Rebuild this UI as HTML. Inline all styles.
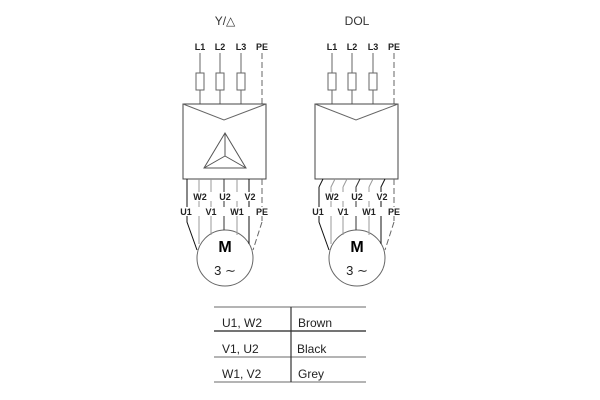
<!DOCTYPE html>
<html><head><style>body{margin:0;background:#fff}svg{display:block}</style></head><body>
<svg width="600" height="400" xmlns="http://www.w3.org/2000/svg" font-family="Liberation Sans, sans-serif">
<defs>
<g id="top">
  <g stroke="#666" stroke-width="1" fill="none">
    <line x1="200" y1="53" x2="200" y2="104"/>
    <line x1="220" y1="53" x2="220" y2="104"/>
    <line x1="241" y1="53" x2="241" y2="104"/>
    <line x1="262" y1="53" x2="262" y2="104" stroke-dasharray="6,3"/>
    <rect x="196" y="73" width="8" height="17" fill="#fff"/>
    <rect x="216" y="73" width="8" height="17" fill="#fff"/>
    <rect x="237" y="73" width="8" height="17" fill="#fff"/>
    <rect x="183" y="104" width="83" height="75" fill="#fff" stroke="#444"/>
    <polyline points="183,104 224,120 266,104"/>
    <line x1="262" y1="179" x2="262" y2="222" stroke-dasharray="6,3"/>
    <line x1="262" y1="222" x2="253" y2="250" stroke-dasharray="6,3"/>
    <circle cx="225" cy="258" r="28" fill="#fff"/>
  </g>
  <g font-size="9" font-weight="bold" text-anchor="middle" fill="#222">
    <text x="200" y="50">L1</text><text x="220" y="50">L2</text><text x="241" y="50">L3</text><text x="262" y="50">PE</text>
  </g>
  <text x="225" y="252" font-size="16" font-weight="bold" text-anchor="middle">M</text>
  <text x="225" y="275" font-size="13" text-anchor="middle" fill="#222">3 ∼</text>
</g>
<g id="labels" font-size="9" font-weight="bold" text-anchor="middle" fill="#222">
  <rect x="192" y="192" width="65" height="9" fill="#fff"/>
  <rect x="178" y="207" width="92" height="9" fill="#fff"/>
  <text x="200" y="200">W2</text><text x="225" y="200">U2</text><text x="250" y="200">V2</text>
  <text x="186" y="215">U1</text><text x="211" y="215">V1</text><text x="237" y="215">W1</text><text x="262" y="215">PE</text>
</g>
</defs>

<text x="225" y="25" font-size="12" text-anchor="middle" fill="#333">Y/△</text>
<use href="#top"/>
<g stroke="#333" fill="none">
  <polygon points="225,133 204,168 246,168" stroke="#555"/>
  <polyline points="225,133 225,156" stroke="#555"/>
  <line x1="204" y1="168" x2="225" y2="156" stroke="#555"/>
  <line x1="246" y1="168" x2="225" y2="156" stroke="#555"/>
  <polyline points="187,179 187,222 197,250" stroke="#111"/>
  <line x1="199" y1="179" x2="199" y2="244" stroke="#999"/>
  <line x1="211" y1="179" x2="211" y2="235" stroke="#999"/>
  <line x1="224" y1="179" x2="224" y2="230" stroke="#333"/>
  <line x1="237" y1="179" x2="237" y2="235" stroke="#999"/>
  <line x1="249" y1="179" x2="249" y2="244" stroke="#111"/>
</g>
<use href="#labels"/>

<text x="357" y="25" font-size="12" text-anchor="middle" fill="#333">DOL</text>
<g transform="translate(132,0)">
<use href="#top"/>
<g stroke="#333" fill="none">
  <polyline points="187,187 187,222 197,250" stroke="#111"/>
  <polyline points="199,244 199,187 203,179" stroke="#999"/>
  <line x1="211" y1="187" x2="211" y2="235" stroke="#999"/>
  <polyline points="224,230 224,187 228,179" stroke="#333"/>
  <line x1="237" y1="187" x2="237" y2="235" stroke="#999"/>
  <polyline points="249,244 249,187 253,179" stroke="#111"/>
  <line x1="187" y1="187" x2="191" y2="179" stroke="#111"/>
  <line x1="211" y1="187" x2="215" y2="179" stroke="#999"/>
  <line x1="237" y1="187" x2="241" y2="179" stroke="#999"/>
</g>
<use href="#labels"/>
</g>

<g stroke="#888" stroke-width="1.2">
  <line x1="214" y1="307" x2="366" y2="307"/>
  <line x1="214" y1="331" x2="366" y2="331" stroke="#222"/>
  <line x1="214" y1="357" x2="366" y2="357"/>
  <line x1="214" y1="382" x2="366" y2="382"/>
  <line x1="291" y1="307" x2="291" y2="382" stroke="#333"/>
</g>
<g font-size="12" fill="#222">
  <text x="222" y="327">U1, W2</text><text x="298" y="327">Brown</text>
  <text x="222" y="353">V1, U2</text><text x="297" y="353">Black</text>
  <text x="222" y="378">W1, V2</text><text x="298" y="378">Grey</text>
</g>
</svg>
</body></html>
